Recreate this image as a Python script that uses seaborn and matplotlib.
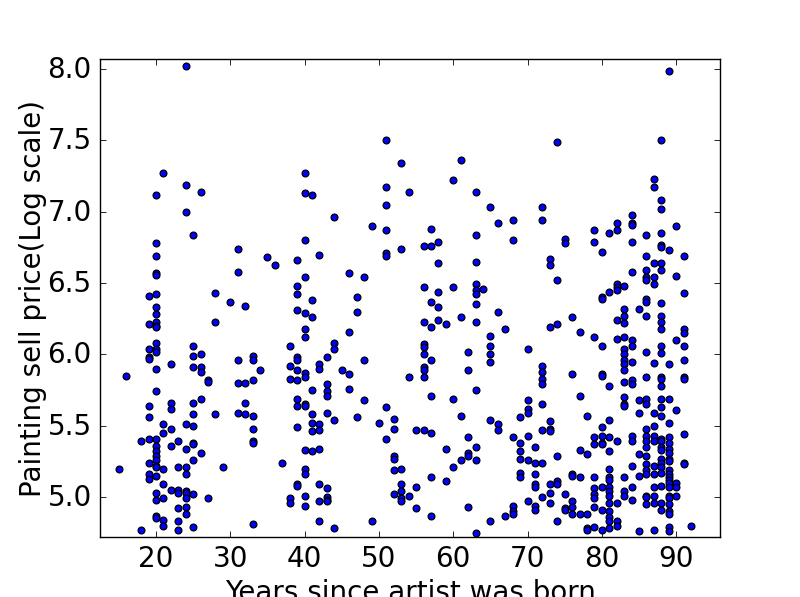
import numpy as np
import pandas as pd
import matplotlib
matplotlib.use("Agg")
import matplotlib.pyplot as plt
from matplotlib.transforms import ScaledTranslation
import seaborn as sns

p15 = [5.20]
p16 = [5.85]
p18 = [5.39, 4.77]
p19 = [6.41, 6.21, 6.04, 5.98, 5.97, 5.64, 5.56, 5.41, 5.24, 5.16, 5.13]
p20 = [7.12, 6.78, 6.69, 6.57, 6.56, 6.42, 6.33, 6.28, 6.23, 6.20, 6.19, 6.08, 6.04, 6.02, 5.90, 5.74, 5.41, 5.36, 5.32, 5.29, 5.26, 5.22, 5.21, 5.15, 5.03, 4.98, 4.87, 4.85]
p21 = [7.27, 5.51, 5.45, 5.20, 5.09, 4.99, 4.84, 4.80]
p22 = [5.93, 5.66, 5.62, 5.48, 5.36, 5.05]
p23 = [5.39, 5.21, 5.05, 5.03, 4.92, 4.83, 4.77]
p24 = [8.02, 7.19, 7.00, 5.51, 5.34, 5.21, 5.16, 5.04, 5.03, 4.99, 4.93, 4.88]
p25 = [6.84, 6.06, 5.99, 5.91, 5.66, 5.58, 5.50, 5.38, 5.37, 5.26, 5.02, 4.79]
p26 = [7.14, 6.00, 5.91, 5.88, 5.69, 5.31]
p27 = [5.82, 5.81, 4.99]
p28 = [6.43, 6.23, 5.58]
p29 = [5.21]
p30 = [6.37]
p31 = [6.74, 6.58, 5.96, 5.80, 5.59]
p32 = [6.34, 5.80, 5.66, 5.58]
p33 = [5.99, 5.96, 5.82, 5.57, 5.48, 5.39, 5.38, 4.81]
p34 = [5.89]
p35 = [6.68]
p36 = [6.63]
p37 = [5.24]
p38 = [6.06, 5.92, 5.83, 4.99, 4.96]
p39 = [6.66, 6.48, 6.42, 6.31, 5.98, 5.96, 5.89, 5.82, 5.69, 5.64, 5.49, 5.09, 5.08]
p40 = [7.27, 7.13, 6.80, 6.54, 6.29, 6.18, 6.12, 5.87, 5.84, 5.65, 5.64, 5.33, 5.20, 5.16, 5.01, 4.94]
p41 = [7.12, 6.38, 6.26, 5.75, 5.58, 5.52, 5.46, 5.32]
p42 = [6.70, 5.93, 5.90, 5.51, 5.47, 5.34, 5.09, 4.97, 4.83]
p43 = [5.98, 5.79, 5.74, 5.71, 5.59, 5.06, 5.00, 4.98, 4.97]
p44 = [6.96, 6.08, 6.04, 5.54, 4.78]
p45 = [5.89]
p46 = [6.57, 6.16, 5.86, 5.76]
p47 = [6.40, 6.30, 5.56]
p48 = [6.54, 5.96, 5.68]
p49 = [6.90, 4.83]
p50 = [5.52]
p51 = [7.50, 7.17, 7.05, 6.87, 6.71, 6.69, 5.63, 5.41]
p52 = [5.55, 5.48, 5.29, 5.27, 5.19, 5.02]
p53 = [7.34, 6.74, 5.20, 5.09, 5.04, 4.99, 4.97]
p54 = [7.14, 5.84, 5.01]
p55 = [5.47, 5.07, 4.92]
p56 = [6.76, 6.47, 6.23, 6.07, 6.05, 6.00, 5.91, 5.89, 5.84, 5.47]
p57 = [6.88, 6.76, 6.37, 6.19, 5.96, 5.71, 5.45, 5.14, 4.87]
p58 = [6.79, 6.64, 6.44, 6.33, 6.24]
p59 = [6.21, 5.34, 5.11]
p60 = [7.22, 6.47, 5.69, 5.21]
p61 = [7.36, 6.26, 5.57, 5.26]
p62 = [6.02, 5.89, 5.42, 5.31, 5.29, 4.93]
p63 = [7.14, 6.84, 6.65, 6.49, 6.45, 6.42, 6.35, 6.23, 5.75, 5.35, 5.26, 4.75]
p64 = [6.46]
p65 = [7.03, 6.13, 6.06, 6.00, 5.95, 5.54, 4.83]
p66 = [6.92, 6.30, 5.51, 5.47]
p67 = [6.18, 4.87]
p68 = [6.94, 6.80, 5.42, 4.94, 4.90, 4.88]
p69 = [5.56, 5.38, 5.32, 5.27, 5.17, 5.14]
p70 = [6.04, 5.68, 5.62, 5.59, 5.43, 5.26, 4.97]
p71 = [5.35, 5.24, 5.16, 5.09, 5.07, 4.94, 4.91]
p72 = [7.03, 6.94, 5.92, 5.88, 5.83, 5.79, 5.65, 5.47, 5.24, 5.00]
p73 = [6.67, 6.63, 6.19, 5.53, 5.48, 5.46, 5.09, 5.03, 4.96]
p74 = [7.49, 6.52, 6.21, 5.29, 5.11, 5.09, 4.83]
p75 = [6.81, 6.78, 5.02, 4.92, 4.91]
p76 = [6.26, 5.86, 5.16, 5.15, 4.97, 4.93, 4.88]
p77 = [6.16, 5.71, 5.33, 5.14, 4.88]
p78 = [5.57, 5.30, 4.88, 4.78, 4.77]
p79 = [6.87, 6.79, 6.12, 5.42, 5.37, 5.14, 5.06, 5.02, 4.99, 4.93, 4.79]
p80 = [6.72, 6.40, 6.39, 6.06, 5.86, 5.85, 5.49, 5.43, 5.38, 5.37, 5.07, 4.91, 4.77]
p81 = [6.85, 6.44, 5.78, 5.54, 5.42, 5.32, 5.20, 5.14, 5.12, 5.07, 5.04, 5.01, 4.96, 4.90, 4.86, 4.83, 4.78]
p82 = [6.92, 6.87, 6.49, 6.47, 6.45, 6.24, 6.11, 5.39, 4.96, 4.83, 4.80]
p83 = [6.48, 6.32, 6.27, 6.22, 6.12, 6.04, 6.00, 5.96, 5.93, 5.89, 5.81, 5.70, 5.65, 5.64, 5.14, 5.04, 5.01]
p84 = [6.98, 6.92, 6.91, 6.79, 6.58, 6.10, 6.06, 5.95, 5.82, 5.79, 5.43, 5.39, 5.22, 5.07, 4.98]
p85 = [6.32, 5.68, 5.59, 5.30, 5.15, 4.76]
p86 = [6.84, 6.69, 6.59, 6.54, 6.52, 6.39, 6.37, 6.27, 6.02, 5.84, 5.69, 5.65, 5.48, 5.43, 5.39, 5.35, 5.29, 5.23, 5.19, 5.16, 5.01, 5.00, 4.95]
p87 = [7.23, 7.17, 6.64, 6.54, 6.49, 5.94, 5.59, 5.50, 5.43, 5.39, 5.22, 5.16, 5.07, 5.01, 4.96, 4.77]
p88 = [7.50, 7.08, 7.02, 6.85, 6.77, 6.75, 6.64, 6.59, 6.36, 6.27, 6.23, 6.18, 6.06, 6.01, 5.84, 5.83, 5.78, 5.69, 5.63, 5.57, 5.41, 5.39, 5.35, 5.33, 5.27, 5.24, 5.21, 5.17, 5.08, 4.96, 4.91]
p89 = [7.99, 6.73, 5.93, 5.69, 5.52, 5.42, 5.38, 5.34, 5.31, 5.27, 5.25, 5.19, 5.16, 5.14, 5.12, 5.10, 5.07, 5.01, 4.99, 4.95, 4.90, 4.88, 4.79, 4.76]
p90 = [6.90, 6.55, 6.10, 5.61, 5.10, 5.07, 5.01]
p91 = [6.69, 6.43, 6.18, 6.15, 6.06, 5.96, 5.84, 5.83, 5.44, 5.24, 5.23]
p92 = [4.80]

x_ticks = [20, 30, 40, 50, 60, 70, 80, 90]
y_ticks = [5.0, 5.5, 6.0, 6.5, 7.0, 7.5, 8.0]
x_label = "Years since artist was born"
y_label = "Painting sell price(Log scale)"

namespace = dict(globals())
years, prices = [], []
for yr in range(15, 93):
    vals = namespace.get(f"p{yr}", [])
    years += [yr] * len(vals)
    prices += vals
df = pd.DataFrame({"years": years, "price": prices})

sns.set_theme(style="white", rc={"font.family": "DejaVu Sans"})
fig, ax = plt.subplots(figsize=(8, 5.97), dpi=100)
fig.subplots_adjust(left=0.125, right=0.9, bottom=0.1005, top=0.901)
sns.scatterplot(data=df, x="years", y="price", color="#0000ff", edgecolor="black",
                linewidth=0.9, s=24, ax=ax, zorder=3, clip_on=True)
ax.set_xlim(12.46, 95.9)
ax.set_ylim(4.72, 8.07)
ax.set_xticks(x_ticks)
ax.set_yticks(y_ticks)
ax.set_yticklabels([f"{v:.1f}" for v in y_ticks])
ax.tick_params(axis="both", which="major", direction="in", length=4, width=0.6,
               top=True, right=True, bottom=True, left=True, labelsize=20, colors="black", pad=6)
shift = ScaledTranslation(0, 2 / 100, fig.dpi_scale_trans)
for lab in ax.get_yticklabels():
    lab.set_transform(lab.get_transform() + shift)
for s in ax.spines.values():
    s.set_visible(True)
    s.set_color("black")
    s.set_linewidth(1)
ax.set_xlabel(x_label, fontsize=20, color="black", labelpad=4)
ax.set_ylabel(y_label, fontsize=20, color="black", labelpad=0)
fig.savefig("out.png", dpi=100, facecolor="white")
